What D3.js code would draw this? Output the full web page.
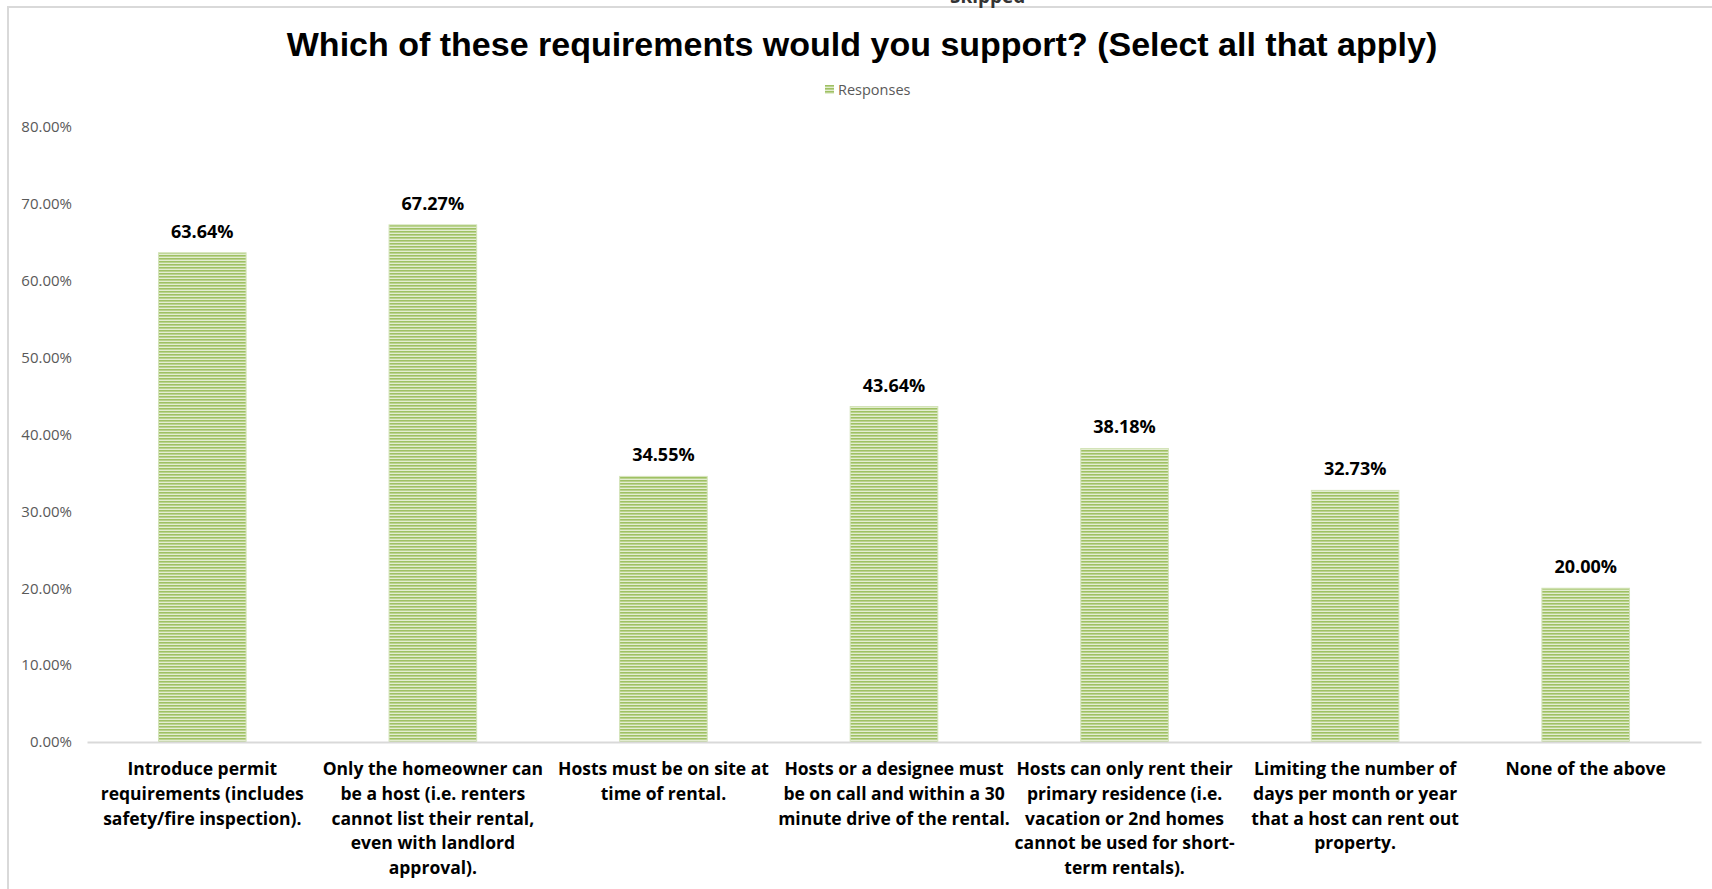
<!DOCTYPE html>
<html>
<head>
<meta charset="utf-8">
<script src="https://cdn.jsdelivr.net/npm/d3@7"></script>
<style>
  body { margin: 0; background: #fff; }
</style>
</head>
<body>
<div id="chart-area"></div>
<script>
// chart data
var categories = [
    "Introduce permit\nrequirements (includes\nsafety/fire inspection).",
    "Only the homeowner can\nbe a host (i.e. renters\ncannot list their rental,\neven with landlord\napproval).",
    "Hosts must be on site at\ntime of rental.",
    "Hosts or a designee must\nbe on call and within a 30\nminute drive of the rental.",
    "Hosts can only rent their\nprimary residence (i.e.\nvacation or 2nd homes\ncannot be used for short-\nterm rentals).",
    "Limiting the number of\ndays per month or year\nthat a host can rent out\nproperty.",
    "None of the above"
];
var responses = [63.64, 67.27, 34.55, 43.64, 38.18, 32.73, 20.00];
var yTicks = [0, 10, 20, 30, 40, 50, 60, 70, 80];

var W = 1712, H = 889;
var plot = { left: 87, right: 1701, top: 127, bottom: 742 };

var svg = d3.select("#chart-area")
    .append("svg")
    .attr("width", W)
    .attr("height", H)
    .style("display", "block")
    .style("background-color", "#fff");

// striped fill like the excel pattern
var defs = svg.append("defs");
var pat = defs.append("pattern")
    .attr("id", "stripes")
    .attr("patternUnits", "userSpaceOnUse")
    .attr("width", 6)
    .attr("height", 3);
pat.append("rect").attr("width", 6).attr("height", 3).attr("fill", "#e3edd1");
pat.append("rect").attr("width", 6).attr("height", 1.6).attr("fill", "#9fc163");

// outer frame (only top + left visible)
svg.append("line")
    .attr("x1", 7).attr("y1", 7).attr("x2", W).attr("y2", 7)
    .attr("stroke", "#d9d9d9").attr("stroke-width", 2);
svg.append("line")
    .attr("x1", 8).attr("y1", 6).attr("x2", 8).attr("y2", H)
    .attr("stroke", "#d9d9d9").attr("stroke-width", 2);

// text from the table above the chart, cut by the page edge as in the original
svg.append("text")
    .attr("x", 950)
    .attr("y", 3)
    .attr("font-family", "'Open Sans', sans-serif")
    .attr("font-size", "19px")
    .attr("font-weight", "bold")
    .attr("fill", "#333")
    .text("Skipped");

svg.append("text")
    .attr("x", 862)
    .attr("y", 56)
    .attr("text-anchor", "middle")
    .attr("font-family", "'Liberation Sans', Arial, sans-serif")
    .attr("font-size", "34px")
    .attr("font-weight", "bold")
    .attr("fill", "#000")
    .text("Which of these requirements would you support? (Select all that apply)");

// legend
var legend = svg.append("g").attr("transform", "translate(825, 85)");
legend.append("rect")
    .attr("width", 9).attr("height", 9)
    .attr("fill", "url(#stripes)");
legend.append("text")
    .attr("x", 13)
    .attr("y", 9.5)
    .attr("font-family", "'Open Sans', sans-serif")
    .attr("font-size", "14.5px")
    .attr("fill", "#595959")
    .text("Responses");

var x = d3.scaleBand()
    .domain(categories)
    .range([plot.left, plot.right])
    .paddingInner(0.62)
    .paddingOuter(0.31);

var y = d3.scaleLinear()
    .domain([0, 80])
    .range([plot.bottom, plot.top]);

// y axis labels, no line
var yAxis = d3.axisLeft(y)
    .tickValues(yTicks)
    .tickSize(0)
    .tickPadding(0)
    .tickFormat(d => d3.format(".2f")(d) + "%");

svg.append("g")
    .attr("class", "y-axis")
    .attr("transform", "translate(72, 0)")
    .call(yAxis)
    .call(g => g.select(".domain").remove())
    .selectAll("text")
    .attr("font-family", "'Open Sans', sans-serif")
    .attr("font-size", "15px")
    .attr("fill", "#595959");

svg.selectAll("rect.bar")
    .data(responses)
    .enter()
    .append("rect")
    .attr("class", "bar")
    .attr("x", (d, i) => x(categories[i]))
    .attr("y", d => y(d))
    .attr("width", x.bandwidth())
    .attr("height", d => plot.bottom - y(d))
    .attr("fill", "url(#stripes)")
    .attr("stroke", "#d3e3b8")
    .attr("stroke-width", 1);

svg.selectAll(".value-label")
    .data(responses)
    .enter()
    .append("text")
    .attr("class", "value-label")
    .attr("x", (d, i) => x(categories[i]) + x.bandwidth() / 2)
    .attr("y", d => y(d) - 15)
    .attr("text-anchor", "middle")
    .attr("font-family", "'Open Sans', sans-serif")
    .attr("font-size", "18px")
    .attr("font-weight", "bold")
    .attr("fill", "#000")
    .text(d => d3.format(".2f")(d) + "%");

// x axis
var xAxis = d3.axisBottom(x).tickSize(0).tickFormat("");
var xg = svg.append("g")
    .attr("class", "x-axis")
    .attr("transform", `translate(0, ${plot.bottom})`)
    .call(xAxis);
xg.select(".domain")
    .attr("stroke", "#d9d9d9")
    .attr("stroke-width", 2);

xg.selectAll(".tick")
    .append("text")
    .attr("text-anchor", "middle")
    .attr("font-family", "'Open Sans', sans-serif")
    .attr("font-size", "17.5px")
    .attr("font-weight", "bold")
    .attr("fill", "#000")
    .selectAll("tspan")
    .data(d => d.split("\n"))
    .enter()
    .append("tspan")
    .attr("x", 0)
    .attr("y", (d, i) => 33 + i * 24.8)
    .text(d => d);
</script>
</body>
</html>
